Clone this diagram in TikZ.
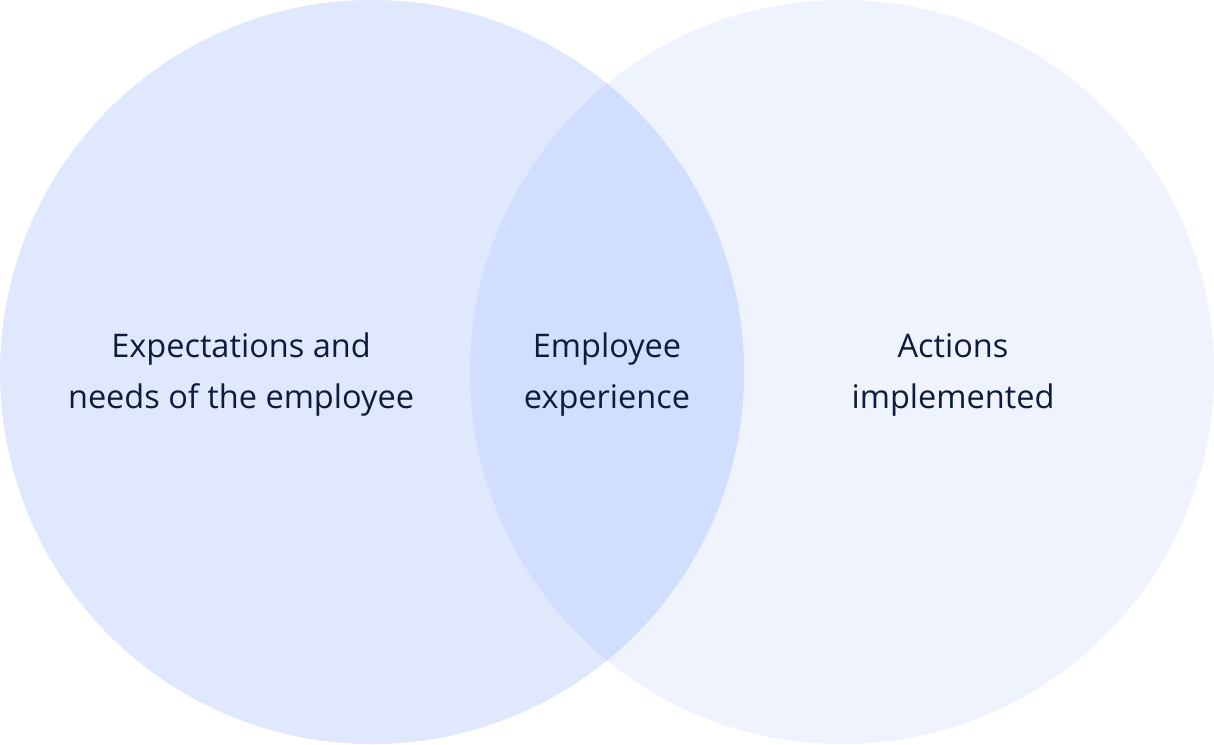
\documentclass[tikz,border=0pt]{standalone}
\usepackage{fontspec}
\setmainfont{Open Sans}
\definecolor{leftc}{HTML}{E0E8FD}
\definecolor{rightc}{HTML}{EEF3FE}
\definecolor{interc}{HTML}{D1DEFD}
\definecolor{textc}{HTML}{0E1B3D}
\begin{document}
\begin{tikzpicture}[x=1pt,y=-1pt,
  lbl/.style={text=textc,align=center,font=\fontsize{32.5}{51}\selectfont,inner sep=0pt}]
\useasboundingbox (0,0) rectangle (1214,744);
\fill[rightc] (842,372) circle[radius=372];
\fill[leftc] (372,372) circle[radius=372];
\begin{scope}
\clip (372,372) circle[radius=372];
\fill[interc] (842,372) circle[radius=372];
\end{scope}
\node[lbl] (a) at (241,375) {Expectations and\\needs of the employee};
\node[lbl] (b) at (607,375) {Employee\\experience};
\node[lbl] (c) at (953,375) {Actions\\implemented};
\end{tikzpicture}
\end{document}
